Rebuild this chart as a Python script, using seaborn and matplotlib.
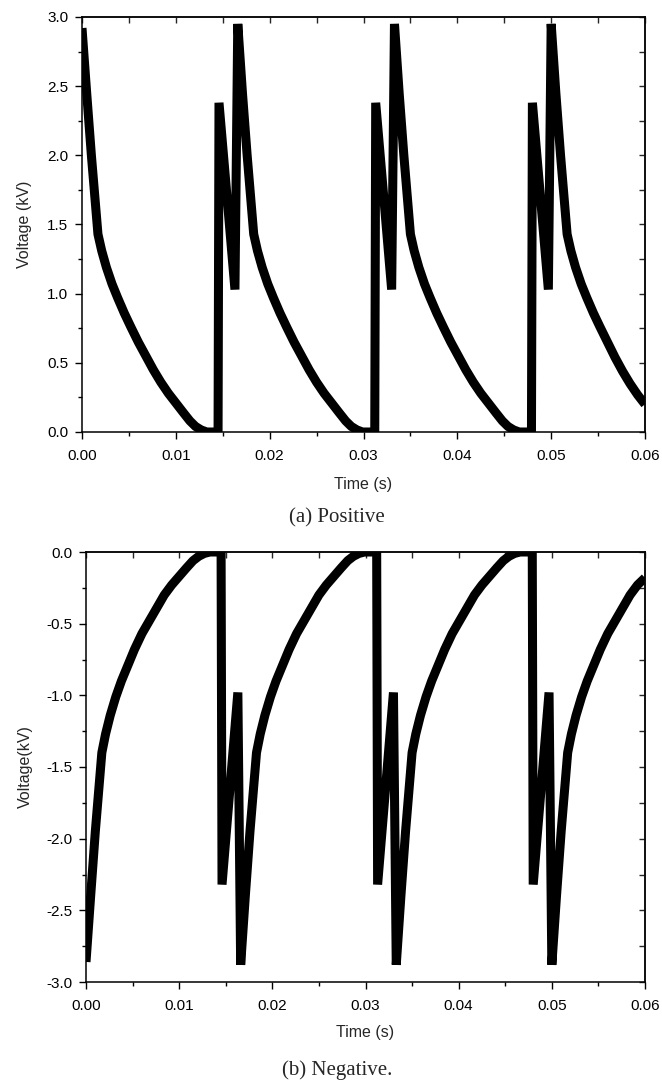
import matplotlib
matplotlib.use("Agg")
import matplotlib.pyplot as plt
import seaborn as sns
import pandas as pd
from matplotlib.ticker import MultipleLocator, FormatStrFormatter

# ---------------- data ----------------
pos_time = [0.0000, 0.0005, 0.0010, 0.0017, 0.0021, 0.0026, 0.0032, 0.0038, 0.0045, 0.0052,
            0.0060, 0.0068, 0.0076, 0.0084, 0.0092, 0.0100, 0.0108, 0.0115, 0.0121, 0.0127,
            0.0133, 0.0145, 0.0146, 0.0163,
            0.0166, 0.0171, 0.0176, 0.0183, 0.0187, 0.0192, 0.0198, 0.0204, 0.0211, 0.0218,
            0.0226, 0.0234, 0.0242, 0.0250, 0.0258, 0.0266, 0.0274, 0.0281, 0.0287, 0.0293,
            0.0299, 0.0312, 0.0313, 0.0330,
            0.0333, 0.0338, 0.0343, 0.0350, 0.0354, 0.0359, 0.0365, 0.0371, 0.0378, 0.0385,
            0.0393, 0.0401, 0.0409, 0.0417, 0.0425, 0.0433, 0.0441, 0.0448, 0.0454, 0.0460,
            0.0466, 0.0479, 0.0480, 0.0497,
            0.0500, 0.0505, 0.0510, 0.0517, 0.0521, 0.0526, 0.0532, 0.0538, 0.0545, 0.0552,
            0.0560, 0.0568, 0.0576, 0.0584, 0.0592, 0.0600]
pos_volt = [2.92, 2.45, 2.00, 1.43, 1.31, 1.19, 1.07, 0.97, 0.86, 0.76,
            0.65, 0.55, 0.45, 0.36, 0.28, 0.21, 0.14, 0.08, 0.04, 0.015,
            0.00, 0.00, 2.38, 1.03,
            2.95, 2.45, 2.00, 1.43, 1.31, 1.19, 1.07, 0.97, 0.86, 0.76,
            0.65, 0.55, 0.45, 0.36, 0.28, 0.21, 0.14, 0.08, 0.04, 0.015,
            0.00, 0.00, 2.38, 1.03,
            2.95, 2.45, 2.00, 1.43, 1.31, 1.19, 1.07, 0.97, 0.86, 0.76,
            0.65, 0.55, 0.45, 0.36, 0.28, 0.21, 0.14, 0.08, 0.04, 0.015,
            0.00, 0.00, 2.38, 1.03,
            2.95, 2.45, 2.00, 1.43, 1.31, 1.19, 1.07, 0.97, 0.86, 0.76,
            0.65, 0.54, 0.44, 0.35, 0.27, 0.20]

neg_time = list(pos_time)
neg_volt = [-2.86, -2.40, -1.95, -1.40, -1.27, -1.14, -1.01, -0.90, -0.79, -0.68,
            -0.57, -0.48, -0.39, -0.30, -0.23, -0.17, -0.11, -0.06, -0.03, -0.01,
            0.00, 0.00, -2.32, -0.98,
            -2.88, -2.40, -1.95, -1.40, -1.27, -1.14, -1.01, -0.90, -0.79, -0.68,
            -0.57, -0.48, -0.39, -0.30, -0.23, -0.17, -0.11, -0.06, -0.03, -0.01,
            0.00, 0.00, -2.32, -0.98,
            -2.88, -2.40, -1.95, -1.40, -1.27, -1.14, -1.01, -0.90, -0.79, -0.68,
            -0.57, -0.48, -0.39, -0.30, -0.23, -0.17, -0.11, -0.06, -0.03, -0.01,
            0.00, 0.00, -2.32, -0.98,
            -2.88, -2.40, -1.95, -1.40, -1.27, -1.14, -1.01, -0.90, -0.79, -0.68,
            -0.57, -0.48, -0.39, -0.30, -0.23, -0.18]

x_ticks = [0.00, 0.01, 0.02, 0.03, 0.04, 0.05, 0.06]
pos_yticks = [0.0, 0.5, 1.0, 1.5, 2.0, 2.5, 3.0]
neg_yticks = [-3.0, -2.5, -2.0, -1.5, -1.0, -0.5, 0.0]

# ---------------- styling ----------------
sns.set_style("ticks")
plt.rcParams["font.family"] = ["Liberation Sans", "DejaVu Sans"]
plt.rcParams["axes.linewidth"] = 1.1

fig = plt.figure(figsize=(6.62, 10.84), dpi=100)
ax1 = fig.add_axes([82 / 662, 1 - 432 / 1084, 563 / 662, 415 / 1084])
ax2 = fig.add_axes([86 / 662, 1 - 982 / 1084, 559 / 662, 430 / 1084])

df_pos = pd.DataFrame({"t": pos_time, "v": pos_volt})
df_neg = pd.DataFrame({"t": neg_time, "v": neg_volt})


def style_axes(ax, yticks, ylim, ylabel, ylab_x, xlab_y):
    ax.set_xlim(0, 0.06)
    ax.set_ylim(*ylim)
    ax.set_xticks(x_ticks)
    ax.set_yticks(yticks)
    ax.xaxis.set_minor_locator(MultipleLocator(0.005))
    ax.yaxis.set_minor_locator(MultipleLocator(0.25))
    ax.xaxis.set_major_formatter(FormatStrFormatter("%.2f"))
    ax.yaxis.set_major_formatter(FormatStrFormatter("%.1f"))
    ax.tick_params(which="both", direction="out", top=False, right=False,
                   labelsize=11, width=1.0, colors="black")
    ax.tick_params(axis="x", pad=7)
    ax.tick_params(axis="y", pad=5)
    ax.tick_params(which="major", length=5)
    ax.tick_params(which="minor", length=3)
    for s in ax.spines.values():
        s.set_visible(True)
        s.set_color("black")
    # inward ticks on top and right (Origin style)
    secx = ax.secondary_xaxis("top")
    secx.set_xticks(x_ticks)
    secx.xaxis.set_minor_locator(MultipleLocator(0.005))
    secx.tick_params(which="both", direction="in", labeltop=False, width=1.0, length=4)
    secy = ax.secondary_yaxis("right")
    secy.set_yticks(yticks)
    secy.yaxis.set_minor_locator(MultipleLocator(0.25))
    secy.tick_params(which="both", direction="in", labelright=False, width=1.0, length=4)

    ax.set_xlabel("Time (s)", fontsize=11.5)
    ax.set_ylabel(ylabel, fontsize=11.5)
    ax.xaxis.set_label_coords(0.5, xlab_y)
    ax.xaxis.label.set_va("center")
    ax.yaxis.set_label_coords(ylab_x, 0.5)
    ax.yaxis.label.set_va("center")
    ax.yaxis.label.set_ha("center")


sns.lineplot(data=df_pos, x="t", y="v", ax=ax1, sort=False, estimator=None,
             color="black", linewidth=6.5)
sns.lineplot(data=df_neg, x="t", y="v", ax=ax2, sort=False, estimator=None,
             color="black", linewidth=6.5)
for ax in (ax1, ax2):
    for ln in ax.get_lines():
        ln.set_solid_joinstyle("bevel")
        ln.set_solid_capstyle("butt")

style_axes(ax1, pos_yticks, (0, 3.0), "Voltage (kV)", (25 - 82) / 563, (432 - 485) / 415)
style_axes(ax2, neg_yticks, (-3.0, 0), "Voltage(kV)", (25 - 86) / 559, (982 - 1033) / 430)

fig.text(337 / 662, 1 - 518 / 1084, "(a) Positive", ha="center", va="center",
         fontsize=15, family=["Liberation Serif", "DejaVu Serif"])
fig.text(337 / 662, 1 - 1070 / 1084, "(b) Negative.", ha="center", va="center",
         fontsize=15, family=["Liberation Serif", "DejaVu Serif"])

fig.savefig("out.png", dpi=100, facecolor="white")
